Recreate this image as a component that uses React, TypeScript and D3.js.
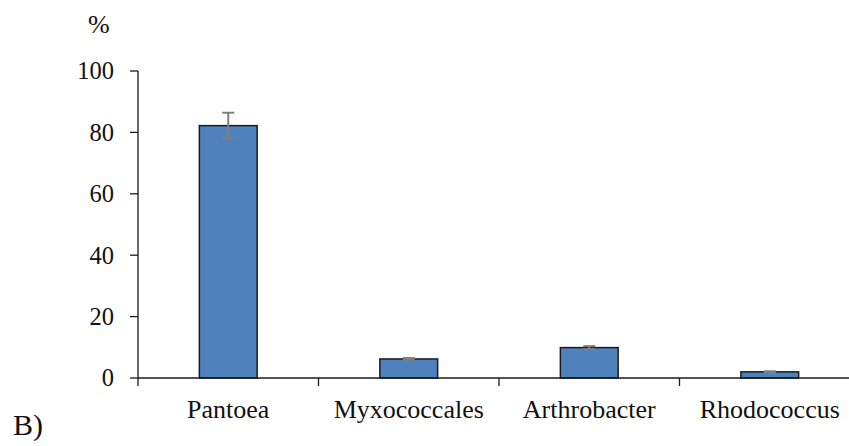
import React from "react";
import * as d3 from "d3";

const categories = ["Pantoea", "Myxococcales", "Arthrobacter", "Rhodococcus"];
const values = [82.2, 6.2, 9.9, 2.0];
const errors = [4.2, 0.3, 0.5, 0.2];
const yTicks = [0, 20, 40, 60, 80, 100];

const W = 849;
const H = 446;
const plot = { left: 138, right: 860, top: 71, bottom: 378 };
const textStyle: React.CSSProperties = { fontFamily: '"Liberation Serif", "Times New Roman", Times, serif' };

export default function App() {
  const y = d3.scaleLinear().domain([0, 100]).range([plot.bottom, plot.top]);
  const x = d3
    .scaleBand<string>()
    .domain(categories)
    .range([plot.left, plot.right])
    .paddingInner(0.68)
    .paddingOuter(0.34);
  const step = x.step();
  const bw = x.bandwidth();
  const boundaries = d3.range(categories.length + 1).map((i) => plot.left + i * step);

  return (
    <svg
      width={W}
      height={H}
      style={{ position: "absolute", left: 0, top: 0, background: "#fff" }}
    >
      {/* y axis */}
      <line x1={plot.left} x2={plot.left} y1={y(100)} y2={y(0)} stroke="#1a1a1a" strokeWidth={1.3} />
      {yTicks.map((t) => (
        <g key={t}>
          <line x1={plot.left - 8} x2={plot.left} y1={y(t)} y2={y(t)} stroke="#1a1a1a" strokeWidth={1.3} />
          <text x={114} y={y(t)} dy="0.34em" textAnchor="end" fontSize={24.5} fill="#111" style={textStyle}>
            {t}
          </text>
        </g>
      ))}
      <text x={88} y={33} fontSize={26} fill="#111" style={textStyle}>%</text>

      {/* bars with error bars */}
      {categories.map((c, i) => {
        const x0 = x(c)!;
        const cx = x0 + bw / 2;
        return (
          <g key={c}>
            <rect
              x={x0}
              y={y(values[i])}
              width={bw}
              height={y(0) - y(values[i])}
              fill="#4F81BD"
              stroke="#1a1a1a"
              strokeWidth={1.5}
            />
            <g stroke="#7f7f7f" strokeWidth={2}>
              <line x1={cx} x2={cx} y1={y(values[i] + errors[i])} y2={y(values[i] - errors[i])} />
              <line x1={cx - 6} x2={cx + 6} y1={y(values[i] + errors[i])} y2={y(values[i] + errors[i])} />
              <line x1={cx - 6} x2={cx + 6} y1={y(values[i] - errors[i])} y2={y(values[i] - errors[i])} />
            </g>
          </g>
        );
      })}

      {/* x axis */}
      <line x1={plot.left} x2={plot.right} y1={y(0)} y2={y(0)} stroke="#1a1a1a" strokeWidth={1.3} />
      {boundaries.map((b, i) => (
        <line key={i} x1={b} x2={b} y1={y(0)} y2={y(0) + 8} stroke="#1a1a1a" strokeWidth={1.3} />
      ))}
      {categories.map((c) => (
        <text key={c} x={x(c)! + bw / 2} y={418} textAnchor="middle" fontSize={26} fill="#111" style={textStyle}>
          {c}
        </text>
      ))}

      <text x={13} y={435} fontSize={30} fill="#111" style={textStyle}>B)</text>
    </svg>
  );
}
